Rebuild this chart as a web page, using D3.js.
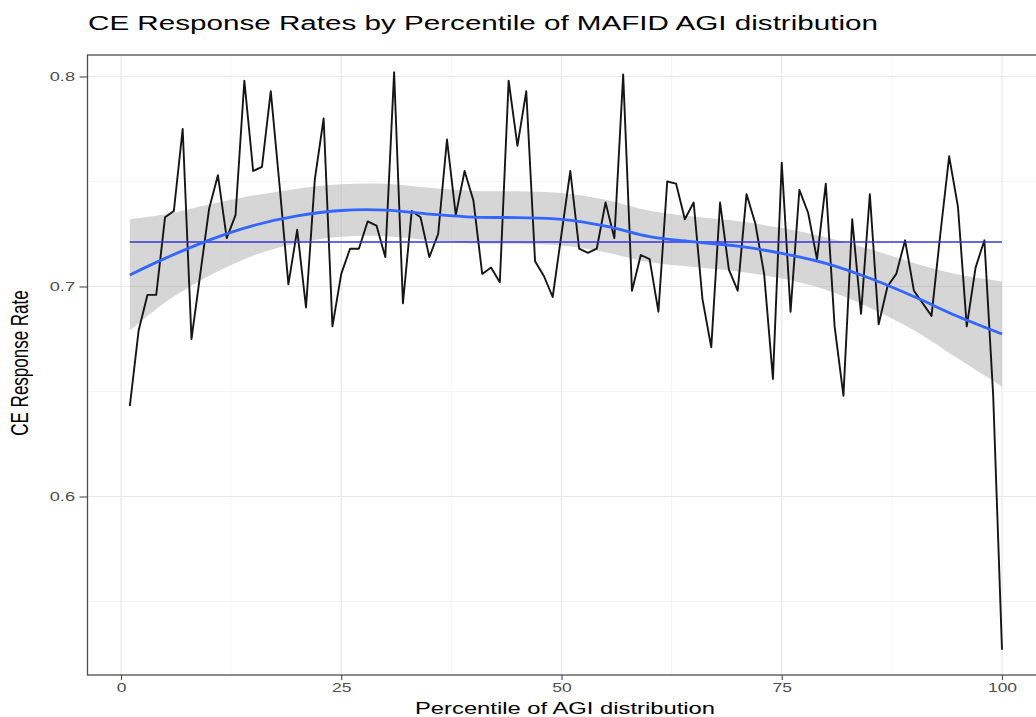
<!DOCTYPE html>
<html>
<head>
<meta charset="utf-8">
<script src="https://cdn.jsdelivr.net/npm/d3@7"></script>
<style>
  body { margin: 0; background: #fff; }
  text { font-family: "Liberation Sans", Arial, sans-serif; }
</style>
</head>
<body>
<div id="chart"></div>
<script>
// percentile of the AGI distribution (1..100)
const percentile = d3.range(1, 101)

// CE response rate per percentile
const rate = [
  0.643, 0.679, 0.696, 0.696, 0.733, 0.736, 0.775, 0.675, 0.706, 0.737,
  0.753, 0.723, 0.734, 0.798, 0.755, 0.757, 0.793, 0.748, 0.701, 0.727,
  0.690, 0.751, 0.780, 0.681, 0.706, 0.718, 0.718, 0.731, 0.729, 0.714,
  0.802, 0.692, 0.736, 0.733, 0.714, 0.725, 0.770, 0.734, 0.755, 0.741,
  0.706, 0.709, 0.702, 0.798, 0.767, 0.793, 0.712, 0.705, 0.695, 0.725,
  0.755, 0.718, 0.716, 0.718, 0.740, 0.723, 0.801, 0.698, 0.715, 0.713,
  0.688, 0.750, 0.749, 0.732, 0.740, 0.694, 0.671, 0.740, 0.708, 0.698,
  0.744, 0.730, 0.706, 0.656, 0.759, 0.688, 0.746, 0.735, 0.713, 0.749,
  0.681, 0.648, 0.732, 0.687, 0.744, 0.682, 0.700, 0.706, 0.722, 0.698,
  0.692, 0.686, 0.725, 0.762, 0.738, 0.681, 0.709, 0.722, 0.648, 0.527
]

// overall mean response rate (horizontal line)
const meanRate = 0.7212

// loess smooth and its confidence band
const smoothX = [1, 5, 10, 15, 20, 25, 30, 35, 40, 45, 50, 55, 60, 65, 70, 75, 80, 85, 90, 95, 100]
const smoothFit = [0.7055, 0.7134, 0.7221, 0.7290, 0.7336, 0.7362, 0.7364, 0.7345, 0.7330, 0.7328, 0.7320,
  0.7288, 0.7238, 0.7213, 0.7192, 0.7158, 0.7110, 0.7039, 0.6952, 0.6857, 0.6774]
const smoothUpper = [0.7320, 0.7344, 0.7391, 0.7433, 0.7466, 0.7487, 0.7489, 0.7470, 0.7455, 0.7453, 0.7445,
  0.7413, 0.7361, 0.7333, 0.7312, 0.7278, 0.7235, 0.7179, 0.7112, 0.7057, 0.7024]
const smoothLower = [0.6790, 0.6924, 0.7051, 0.7147, 0.7206, 0.7237, 0.7239, 0.7220, 0.7205, 0.7203, 0.7195,
  0.7163, 0.7115, 0.7093, 0.7072, 0.7038, 0.6985, 0.6899, 0.6792, 0.6657, 0.6524]

// ticks
const xMajor = [0, 25, 50, 75, 100]
const xMinor = [12.5, 37.5, 62.5, 87.5]
const yMajor = [0.6, 0.7, 0.8]
const yMinor = [0.55, 0.65, 0.75]

const titleText = "CE Response Rates by Percentile of MAFID AGI distribution"
const xTitle = "Percentile of AGI distribution"
const yTitle = "CE Response Rate"

// --

let width = 1036, height = 717
let panel = { left: 87.5, right: 1046, top: 55, bottom: 675 }
let stretch = 1.4 // the picture is wider than it was drawn

let svg = d3.select("#chart").append("svg")
  .attr("width", width)
  .attr("height", height)

svg.append("rect").attr("width", width).attr("height", height).attr("fill", "#fff")

let x = d3.scaleLinear().domain([0, 100]).range([121, 1002])
let y = d3.scaleLinear().domain([0.6, 0.8]).range([496.5, 76.5])

svg.append("clipPath").attr("id", "panelClip")
  .append("rect")
  .attr("x", panel.left).attr("y", panel.top)
  .attr("width", panel.right - panel.left).attr("height", panel.bottom - panel.top)

let grid = svg.append("g")

// minor grid
grid.selectAll(".xminor").data(xMinor).enter().append("line")
  .attr("x1", d => x(d)).attr("x2", d => x(d))
  .attr("y1", panel.top).attr("y2", panel.bottom)
  .attr("stroke", "#f2f2f2").attr("stroke-width", 0.8)
grid.selectAll(".yminor").data(yMinor).enter().append("line")
  .attr("x1", panel.left).attr("x2", panel.right)
  .attr("y1", d => y(d)).attr("y2", d => y(d))
  .attr("stroke", "#f2f2f2").attr("stroke-width", 0.8)

// major grid
grid.selectAll(".xmajor").data(xMajor).enter().append("line")
  .attr("x1", d => x(d)).attr("x2", d => x(d))
  .attr("y1", panel.top).attr("y2", panel.bottom)
  .attr("stroke", "#e8e8e8").attr("stroke-width", 1.2)
grid.selectAll(".ymajor").data(yMajor).enter().append("line")
  .attr("x1", panel.left).attr("x2", panel.right)
  .attr("y1", d => y(d)).attr("y2", d => y(d))
  .attr("stroke", "#e8e8e8").attr("stroke-width", 1.2)

let plot = svg.append("g").attr("clip-path", "url(#panelClip)")

let smoothData = smoothX.map((d, i) => ({ x: d, fit: smoothFit[i], lo: smoothLower[i], hi: smoothUpper[i] }))

// confidence band
plot.append("path")
  .datum(smoothData)
  .attr("fill", "#999999")
  .attr("fill-opacity", 0.4)
  .attr("d", d3.area()
    .x(d => x(d.x))
    .y0(d => y(d.lo))
    .y1(d => y(d.hi))
    .curve(d3.curveCatmullRom.alpha(0.5)))

// response rate line
let rateData = percentile.map((p, i) => ({ x: p, y: rate[i] }))
plot.append("path")
  .datum(rateData)
  .attr("fill", "none")
  .attr("stroke", "#151515")
  .attr("stroke-width", 1.9)
  .attr("stroke-linejoin", "round")
  .attr("d", d3.line().x(d => x(d.x)).y(d => y(d.y)))

// mean line
plot.append("line")
  .attr("x1", x(percentile[0])).attr("x2", x(percentile[percentile.length - 1]))
  .attr("y1", y(meanRate)).attr("y2", y(meanRate))
  .attr("stroke", "#3434d8")
  .attr("stroke-width", 1.6)

// loess fit
plot.append("path")
  .datum(smoothData)
  .attr("fill", "none")
  .attr("stroke", "#3366FF")
  .attr("stroke-width", 2.8)
  .attr("d", d3.line().x(d => x(d.x)).y(d => y(d.fit)).curve(d3.curveCatmullRom.alpha(0.5)))

// panel border
svg.append("rect")
  .attr("x", panel.left).attr("y", panel.top)
  .attr("width", panel.right - panel.left).attr("height", panel.bottom - panel.top)
  .attr("fill", "none")
  .attr("stroke", "#4d4d4d")
  .attr("stroke-width", 1.3)

// axes
let xAxis = svg.append("g")
  .attr("transform", `translate(0,${panel.bottom})`)
  .call(d3.axisBottom(x).tickValues(xMajor).tickSize(5).tickSizeOuter(0).tickPadding(3))
xAxis.select(".domain").remove()
xAxis.selectAll(".tick line").attr("stroke", "#4d4d4d").attr("stroke-width", 1.1)
xAxis.selectAll(".tick text")
  .attr("fill", "#4d4d4d")
  .attr("font-size", 12.5)
  .attr("font-family", "Liberation Sans, Arial, sans-serif")
  .attr("transform", `scale(${stretch},1)`)
  .attr("x", 0)
  .attr("dy", "0.71em")

let yAxis = svg.append("g")
  .attr("transform", `translate(${panel.left},0)`)
  .call(d3.axisLeft(y).tickValues(yMajor).tickFormat(d3.format(".1f")).tickSize(8).tickSizeOuter(0).tickPadding(0))
yAxis.select(".domain").remove()
yAxis.selectAll(".tick line").attr("stroke", "#4d4d4d").attr("stroke-width", 1.1)
yAxis.selectAll(".tick text")
  .attr("fill", "#4d4d4d")
  .attr("font-size", 13)
  .attr("font-family", "Liberation Sans, Arial, sans-serif")
  .attr("x", -12.5 / stretch)
  .attr("transform", `scale(${stretch},1)`)

// titles
svg.append("text")
  .attr("x", 88)
  .attr("y", 30)
  .attr("font-size", 20)
  .attr("fill", "#000")
  .attr("textLength", 790)
  .attr("lengthAdjust", "spacingAndGlyphs")
  .text(titleText)

svg.append("text")
  .attr("x", 565)
  .attr("y", 714)
  .attr("text-anchor", "middle")
  .attr("font-size", 16)
  .attr("fill", "#000")
  .attr("textLength", 300)
  .attr("lengthAdjust", "spacingAndGlyphs")
  .text(xTitle)

svg.append("text")
  .attr("transform", `translate(28,363) scale(${stretch},1) rotate(-90)`)
  .attr("text-anchor", "middle")
  .attr("font-size", 17)
  .attr("fill", "#000")
  .text(yTitle)
</script>
</body>
</html>
